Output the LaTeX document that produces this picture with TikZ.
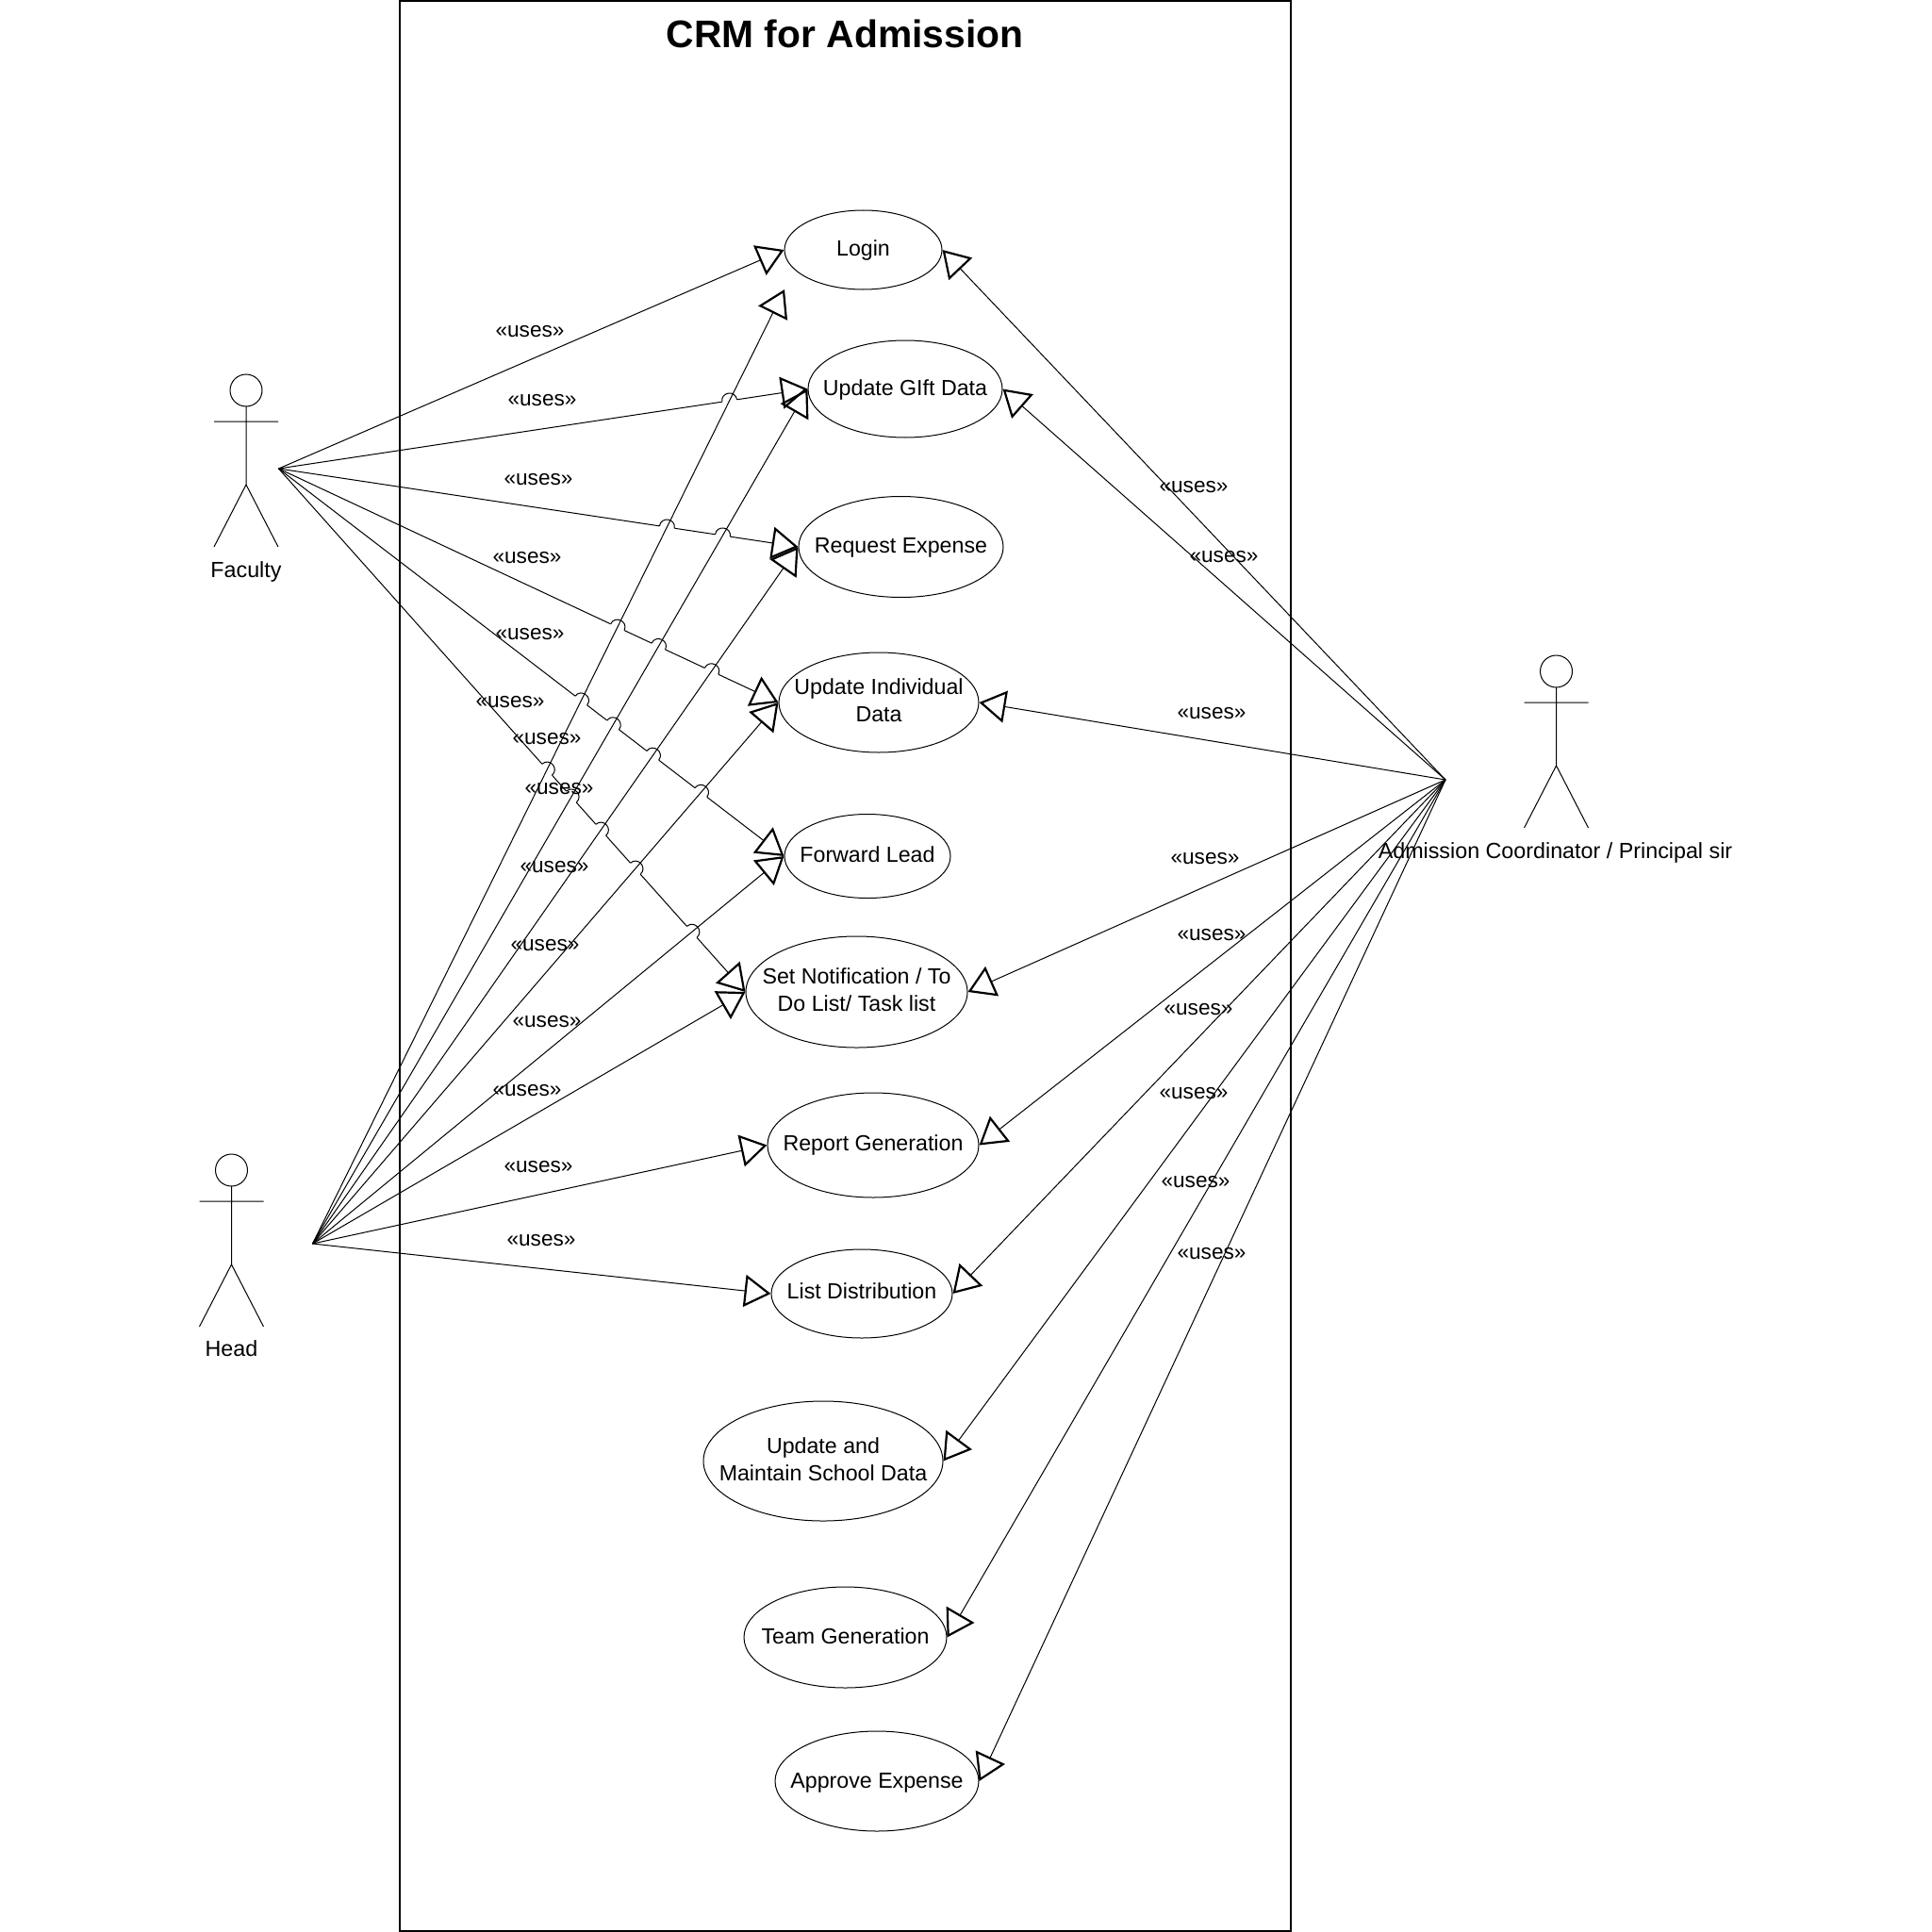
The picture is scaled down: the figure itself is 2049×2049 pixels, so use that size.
\documentclass[tikz,border=0pt]{standalone}
\usepackage{fontspec}
\setmainfont{Liberation Sans}
\usetikzlibrary{arrows.meta,calc,intersections,shapes.geometric}
\tikzset{
  x=0.5pt,y=-0.5pt,
  usecase/.style={draw=black,line width=0.5pt,ellipse,inner sep=0pt,font=\fontsize{11.6}{14.3}\selectfont},
  lbl/.style={inner sep=0pt,font=\fontsize{11.65}{14.3}\selectfont},
  uses/.style={inner sep=0pt,font=\fontsize{11.3}{14}\selectfont},
  conn/.style={draw=black,line width=0.5pt,-{Triangle[open,length=14pt,width=17pt,line width=1.1pt]}},
  actorline/.style={draw=black,line width=0.5pt},
  pics/actor/.style={code={
    \draw[actorline] (0,0) circle[radius=17];
    \draw[actorline] (0,17) -- (0,100) (-34,33) -- (34,33) (-34,166) -- (0,100) -- (34,166);
  }}
}
\newcommand{\ucnode}[7]{\node[usecase,minimum width=#4*0.5pt,minimum height=#5*0.5pt] (#1) at (#2,#3) {\makebox[0pt]{\raisebox{\dimexpr #7pt-2.9pt\relax}[0pt][0pt]{\begin{tabular}{@{}c@{}}#6\end{tabular}}}};}
\begin{document}
\begin{tikzpicture}
\useasboundingbox[fill=white] (0,0) rectangle (2049,2049);
\draw[black,line width=1pt] (424,1) rectangle (1369,2048);
\node[inner sep=0pt,font=\fontsize{20.4}{24}\selectfont\bfseries] (title) at (896,36) {CRM for Admission};

\ucnode{login}{915.5}{265}{167}{84}{Login}{-0.65}
\ucnode{gift}{960}{412.5}{206}{103}{Update GIft Data}{-0.65}
\ucnode{request}{955.5}{580}{217}{107}{Request Expense}{-0.65}
\ucnode{indiv}{932}{745}{212}{106}{Update Individual\\Data}{-0.3}
\ucnode{forward}{920}{908}{176}{89}{Forward Lead}{-0.3}
\ucnode{notif}{908.5}{1052}{235}{118}{Set Notification / To\\Do List/ Task list}{-0.3}
\ucnode{report}{926}{1214.5}{224}{111}{Report Generation}{0}
\ucnode{listd}{914}{1372}{192}{94}{List Distribution}{0}
\ucnode{school}{873}{1549.5}{254}{127}{Update and\\Maintain School Data}{-0.5}
\ucnode{team}{896.5}{1736.5}{215}{107}{Team Generation}{-0.65}
\ucnode{approve}{930}{1889}{216}{106}{Approve Expense}{-0.9}

\pic at (261,414) {actor};
\node[lbl] (lfac) at (261,606) {Faculty};
\pic at (245.5,1241) {actor};
\node[lbl] (lhead) at (245.5,1430) {Head};
\pic at (1650.5,712) {actor};
\node[lbl] (ladm) at (1649.5,904) {Admission Coordinator / Principal sir};

\coordinate (fac) at (295.5,497);
\coordinate (hd) at (331.5,1319);
\coordinate (adm) at (1533,827);
\coordinate (loginfree) at (832,307);

% Faculty connectors
\draw[conn] (fac) -- (login.west);
\draw[conn] (fac) -- (gift.west);
\draw[conn] (fac) -- (request.west);
\draw[conn] (fac) -- (indiv.west);
\draw[conn] (fac) -- (forward.west);
\draw[conn] (fac) -- (notif.west);

% line jumps of the Faculty connectors over the Head connectors
\foreach \hn/\ht in {1/loginfree,2/gift.west,3/request.west,4/indiv.west,5/forward.west,6/notif.west}
  \path[name path global=H\hn] (hd) -- (\ht);
\foreach \fn/\ft in {2/gift.west,3/request.west,4/indiv.west,5/forward.west,6/notif.west}{
  \path[name path global=F\fn] (fac) -- (\ft);
  \foreach \hn in {1,...,6}{
    \ifnum\fn=\hn\else
    \path[name intersections={of={F\fn} and {H\hn},name=xx,total=\t}] \pgfextra{\xdef\xtot{\t}};
    \ifnum\xtot>0
      \draw[white,line width=1pt] ($(xx-1)!4pt!(fac)$) -- ($(xx-1)!4pt!(\ft)$);
      \draw[black,line width=0.5pt] ($(xx-1)!4pt!(fac)$) to[bend left=90,looseness=1.7] ($(xx-1)!4pt!(\ft)$);
    \fi
    \fi
  }
}

% Head connectors
\draw[conn] (hd) -- (loginfree);
\draw[conn] (hd) -- (gift.west);
\draw[conn] (hd) -- (request.west);
\draw[conn] (hd) -- (indiv.west);
\draw[conn] (hd) -- (forward.west);
\draw[conn] (hd) -- (notif.west);
\draw[conn] (hd) -- (report.west);
\draw[conn] (hd) -- (listd.west);

% Admission connectors
\draw[conn] (adm) -- (login.east);
\draw[conn] (adm) -- (gift.east);
\draw[conn] (adm) -- (indiv.east);
\draw[conn] (adm) -- (notif.east);
\draw[conn] (adm) -- (report.east);
\draw[conn] (adm) -- (listd.east);
\draw[conn] (adm) -- (school.east);
\draw[conn] (adm) -- (team.east);
\draw[conn] (adm) -- (approve.east);

% labels
\foreach \n/\a/\b in {a/562/351.5,b/575/424.5,c/571/508.5,d/559/591.5,e/562/672.5,f/541/744.5,g/580/783.5,h/593/836.5,i/588/919.5,j/578/1002.5,k/580/1083.5,l/559/1156.5,m/571/1237.5,n/574/1315.5,o/1266/516.5,p/1298/590.5,q/1285/756.5,r/1278/910.5,s/1285/991.5,t/1271/1070.5,u/1266/1159.5,v/1268/1253.5,w/1285/1329.5}
  \node[uses] (u\n) at (\a,\b) {«uses»};
\end{tikzpicture}
\end{document}
